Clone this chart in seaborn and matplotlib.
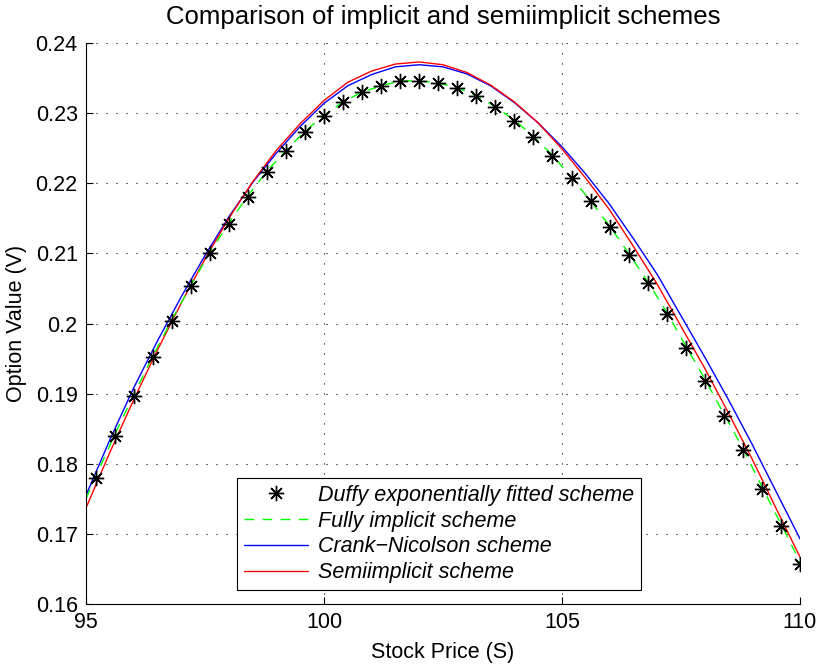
import numpy as np
import pandas as pd
import seaborn as sns
import matplotlib.pyplot as plt
from matplotlib.ticker import FuncFormatter

# Duffy exponentially fitted scheme (stars)
duffy_s = [95.2, 95.6, 96.0, 96.4, 96.8, 97.2, 97.6, 98.0, 98.4, 98.8,
           99.2, 99.6, 100.0, 100.4, 100.8, 101.2, 101.6, 102.0, 102.4, 102.8,
           103.2, 103.6, 104.0, 104.4, 104.8, 105.2, 105.6, 106.0, 106.4, 106.8,
           107.2, 107.6, 108.0, 108.4, 108.8, 109.2, 109.6, 110.0]
duffy_v = [0.1780, 0.1840, 0.1897, 0.1952, 0.2004, 0.2053, 0.2100, 0.2142, 0.2181, 0.2216,
           0.2246, 0.2273, 0.2296, 0.2316, 0.2330, 0.2339, 0.2346, 0.2346, 0.2343, 0.2336,
           0.2325, 0.2309, 0.2289, 0.2266, 0.2239, 0.2207, 0.2174, 0.2138, 0.2098, 0.2058,
           0.2014, 0.1965, 0.1918, 0.1868, 0.1819, 0.1764, 0.1711, 0.1657]

# Fully implicit scheme (green dashed)
implicit_s = [95.0] + duffy_s
implicit_v = [0.1750, 0.1781, 0.1841, 0.1898, 0.1953, 0.2005, 0.2054, 0.2101, 0.2143, 0.2182, 0.2217,
              0.2247, 0.2274, 0.2297, 0.2316, 0.2330, 0.2339, 0.2346, 0.2346, 0.2343, 0.2336,
              0.2325, 0.2309, 0.2290, 0.2267, 0.2240, 0.2208, 0.2175, 0.2139, 0.2100, 0.2060,
              0.2016, 0.1968, 0.1921, 0.1871, 0.1822, 0.1767, 0.1714, 0.1660]

# Crank-Nicolson (blue) and semiimplicit (red)
grid_s = [95.0, 95.5, 96.0, 96.5, 97.0, 97.5, 98.0, 98.5, 99.0, 99.5,
          100.0, 100.5, 101.0, 101.5, 102.0, 102.5, 103.0, 103.5, 104.0, 104.5,
          105.0, 105.5, 106.0, 106.5, 107.0, 107.5, 108.0, 108.5, 109.0, 109.5, 110.0]
cn_v = [0.1755, 0.1834, 0.1908, 0.1975, 0.2038, 0.2097, 0.2152, 0.2201, 0.2243, 0.2281,
        0.2314, 0.2339, 0.2355, 0.2366, 0.2369, 0.2366, 0.2356, 0.2339, 0.2315, 0.2286,
        0.2252, 0.2213, 0.2170, 0.2121, 0.2070, 0.2011, 0.1952, 0.1891, 0.1827, 0.1760, 0.1693]
semi_v = [0.1737, 0.1816, 0.1891, 0.1962, 0.2029, 0.2092, 0.2150, 0.2202, 0.2247, 0.2285,
          0.2318, 0.2344, 0.2360, 0.2370, 0.2373, 0.2369, 0.2358, 0.2340, 0.2316, 0.2286,
          0.2249, 0.2207, 0.2162, 0.2110, 0.2056, 0.1996, 0.1936, 0.1872, 0.1806, 0.1736, 0.1667]

sns.set_style("white")
plt.rcParams['font.family'] = ['Liberation Sans', 'DejaVu Sans']
plt.rcParams['text.color'] = 'k'
plt.rcParams['axes.labelcolor'] = 'k'
fs = 15.5

fig = plt.figure(figsize=(8.21, 6.64), dpi=100)
ax = fig.add_axes([86/821, 1-604/664, 714/821, 561/664])

sns.lineplot(x=grid_s, y=cn_v, ax=ax, color='#0000ff', linewidth=1.0, sort=False,
             label='Crank\u2212Nicolson scheme')
sns.lineplot(x=grid_s, y=semi_v, ax=ax, color='#ff0000', linewidth=1.0, sort=False,
             label='Semiimplicit scheme')
sns.lineplot(x=implicit_s, y=implicit_v, ax=ax, color='#00ff00', linestyle=(0, (7, 6)),
             linewidth=1.0, sort=False, label='Fully implicit scheme')
sns.lineplot(x=duffy_s, y=duffy_v, ax=ax, color='k', linestyle='', marker=(8, 2, 0),
             markersize=11, markeredgewidth=1.0, markeredgecolor='k',
             label='Duffy exponentially fitted scheme')

ax.set_xlim(95, 110)
ax.set_ylim(0.16, 0.24)
ax.set_xticks([95, 100, 105, 110])
ax.set_yticks(np.arange(0.16, 0.2401, 0.01))
ax.yaxis.set_major_formatter(FuncFormatter(lambda v, p: '%g' % round(v, 2)))
ax.tick_params(direction='in', length=5, width=0.8, labelsize=fs, colors='k', pad=6,
               top=False, right=False, bottom=True, left=True)
ax.grid(True, color='k', linestyle=(0, (1, 8)), linewidth=0.8)
for side in ['top', 'right']:
    ax.spines[side].set_visible(False)
for side in ['left', 'bottom']:
    ax.spines[side].set_color('k')
    ax.spines[side].set_linewidth(0.8)

ax.set_xlabel('Stock Price (S)', fontsize=fs, labelpad=6)
ax.set_ylabel('Option Value (V)', fontsize=fs, labelpad=6)
ax.set_title('Comparison of implicit and semiimplicit schemes', fontsize=18.5, pad=14)

handles, labels = ax.get_legend_handles_labels()
order = [3, 2, 0, 1]
leg = ax.legend([handles[i] for i in order], [labels[i] for i in order],
                loc='lower left', bbox_to_anchor=((237-86)/714, (604-590)/561),
                borderaxespad=0, frameon=True, fancybox=False, framealpha=1,
                edgecolor='k', prop={'style': 'italic', 'size': fs},
                handlelength=3.0, handletextpad=0.45, labelspacing=0.22, borderpad=0.32)
leg.get_frame().set_linewidth(0.8)

fig.savefig('out.png', dpi=100)
